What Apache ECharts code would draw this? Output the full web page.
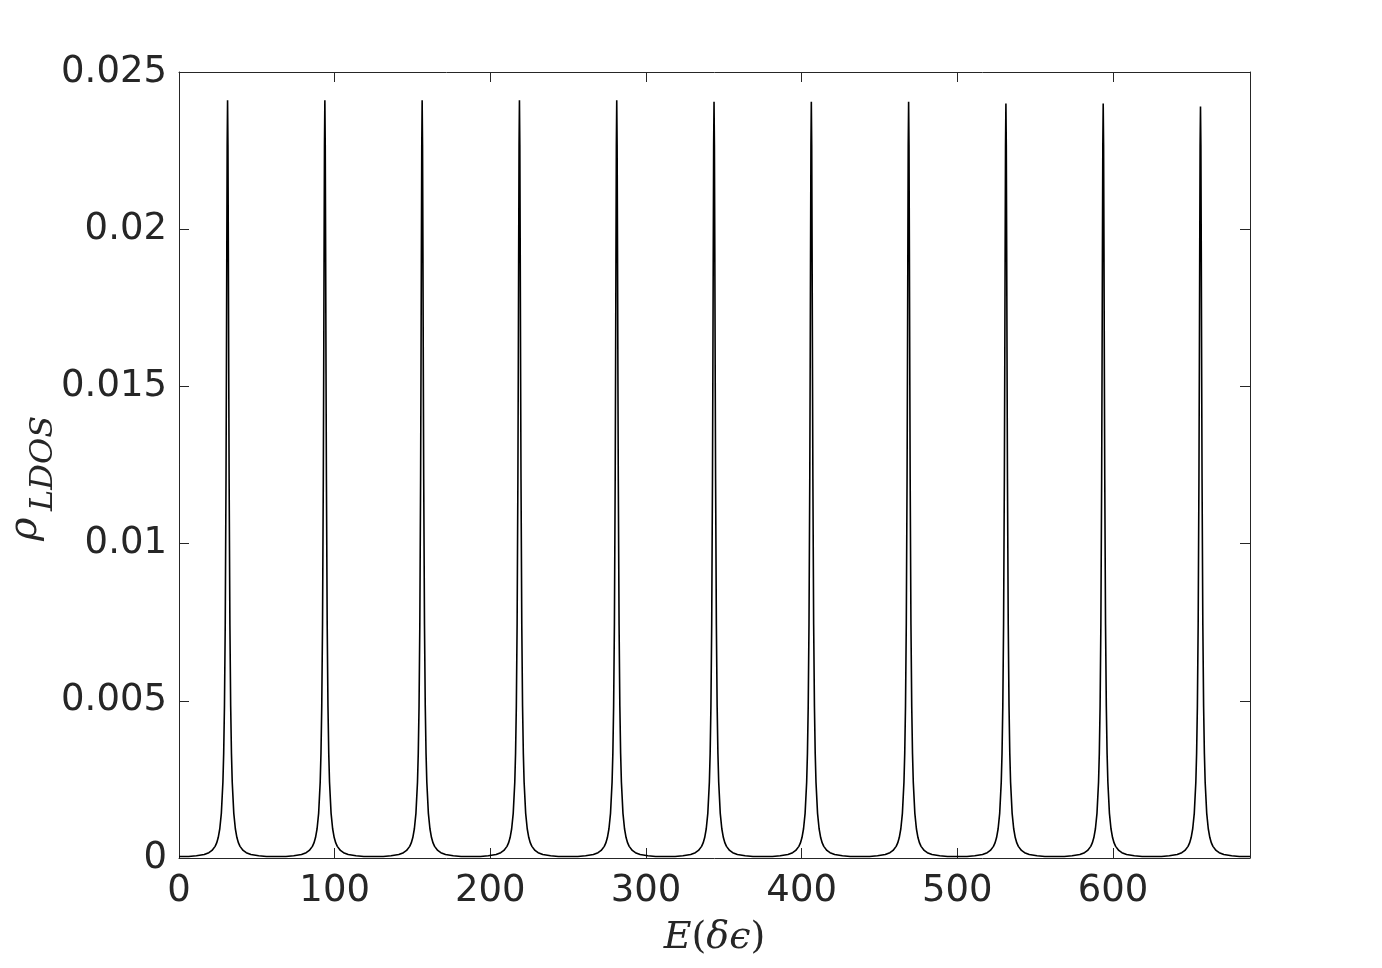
<!DOCTYPE html>
<html>
<head>
<meta charset="utf-8">
<script src="https://cdn.jsdelivr.net/npm/echarts@6/dist/echarts.min.js"></script>
<style>
html,body{margin:0;padding:0;background:#fff;}
#c{width:1382px;height:968px;}
</style>
</head>
<body>
<div id="c"></div>
<script>
// ---- data ----
const xTicks = [0, 100, 200, 300, 400, 500, 600];
const yTicks = [0, 0.005, 0.01, 0.015, 0.02, 0.025];
const xMax = 688;
const edgeValues = [0.00005, 0.00005]; // value at E=0 and at E=xMax
const peakCenters = [31.2, 93.7, 156.2, 218.7, 281.2, 343.7, 406.2, 468.7, 531.2, 593.7, 656.2];
const peakHeights = [0.0241, 0.0241, 0.0241, 0.0241, 0.0241, 0.02405, 0.02405, 0.02405, 0.0240, 0.0240, 0.0239];
// distance from a peak centre (E units) and the curve value there (same on both sides)
const tailOffsets = [0.25, 0.5, 0.75, 1, 1.5, 2, 2.5, 3, 4, 5, 6, 7, 8, 10, 12, 15, 20, 25];
const tailValues = [0.02268, 0.01928, 0.01542, 0.01205, 0.00742, 0.00482, 0.00332, 0.00241, 0.00142, 0.00093, 0.00065, 0.00048, 0.00037, 0.00024, 0.00017, 0.00011, 0.00007, 0.00005];

// ---- assemble the line from the arrays above ----
const lineData = [[0, edgeValues[0]]];
peakCenters.forEach(function (c, k) {
  for (let i = tailOffsets.length - 1; i >= 0; i--) lineData.push([c - tailOffsets[i], tailValues[i]]);
  lineData.push([c, peakHeights[k]]);
  for (let i = 0; i < tailOffsets.length; i++) lineData.push([c + tailOffsets[i], tailValues[i]]);
});
lineData.push([xMax, edgeValues[1]]);

const axisColor = '#262626';
const tickFont = 'DejaVu Sans';
const mathFont = 'DejaVu Serif';

const chart = echarts.init(document.getElementById('c'), null, {renderer: 'canvas'});
const baseAxisLine = {show: true, onZero: false, lineStyle: {color: axisColor, width: 1}};
const baseTick = {show: true, inside: true, length: 10, lineStyle: {color: axisColor, width: 1}};

chart.setOption({
  animation: false,
  backgroundColor: '#ffffff',
  grid: {left: 179, right: 132, top: 72, bottom: 110, containLabel: false, outerBoundsMode: 'none'},
  xAxis: [{
    type: 'value', position: 'bottom', min: 0, max: xMax, interval: 100,
    axisLine: baseAxisLine, axisTick: baseTick, splitLine: {show: false},
    axisLabel: {show: true, margin: 15, color: axisColor, fontFamily: tickFont, fontSize: 37,
      showMaxLabel: false,
      formatter: function (v) { return xTicks.indexOf(v) >= 0 ? String(v) : ''; }},
    name: '{i|E}{n|(}{i|δϵ}{n|)}', nameLocation: 'middle', nameGap: 61,
    nameTextStyle: {rich: {
      i: {fontFamily: mathFont, fontStyle: 'italic', fontSize: 38, color: axisColor},
      n: {fontFamily: mathFont, fontSize: 38, color: axisColor}
    }}
  }, {
    type: 'value', position: 'top', min: 0, max: xMax, interval: 100,
    axisLine: baseAxisLine, axisTick: baseTick, splitLine: {show: false}, axisLabel: {show: false}
  }],
  yAxis: [{
    type: 'value', position: 'left', min: 0, max: 0.025, interval: 0.005,
    axisLine: baseAxisLine, axisTick: baseTick, splitLine: {show: false},
    axisLabel: {show: true, margin: 12, color: axisColor, fontFamily: tickFont, fontSize: 37,
      formatter: function (v) {
        for (let i = 0; i < yTicks.length; i++) if (Math.abs(yTicks[i] - v) < 1e-9) return String(yTicks[i]);
        return '';
      }}
  }, {
    type: 'value', position: 'right', min: 0, max: 0.025, interval: 0.005,
    axisLine: baseAxisLine, axisTick: baseTick, splitLine: {show: false}, axisLabel: {show: false}
  }],
  graphic: [
    {type: 'text', x: 26, y: 541, rotation: Math.PI / 2, silent: true,
      style: {text: 'ρ', fill: axisColor, font: 'italic 40px "DejaVu Serif"', align: 'left', verticalAlign: 'middle'}},
    {type: 'text', x: 44, y: 511, rotation: Math.PI / 2, silent: true,
      style: {text: 'LDOS', fill: axisColor, font: 'italic 32px "DejaVu Serif"', align: 'left', verticalAlign: 'middle'}}
  ],
  series: [{
    type: 'line', xAxisIndex: 0, yAxisIndex: 0, data: lineData,
    showSymbol: false, symbol: 'none', smooth: false,
    lineStyle: {color: '#000000', width: 1.6}, clip: true
  }]
});
</script>
</body>
</html>
